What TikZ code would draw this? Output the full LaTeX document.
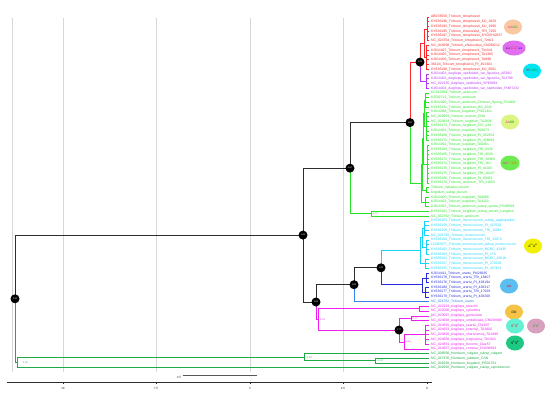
\documentclass[tikz,border=0pt]{standalone}
\usepackage{fontspec}
\setmainfont{Liberation Sans}
\usetikzlibrary{shapes.geometric}
\definecolor{cblk}{RGB}{45,45,45}
\definecolor{cred}{RGB}{250,40,40}
\definecolor{cpur}{RGB}{185,55,240}
\definecolor{cgrn}{RGB}{40,228,40}
\definecolor{ccya}{RGB}{25,212,250}
\definecolor{cblu}{RGB}{40,45,220}
\definecolor{cblu2}{RGB}{50,130,240}
\definecolor{cmag}{RGB}{240,30,240}
\definecolor{cdg}{RGB}{30,170,70}
\definecolor{gridc}{RGB}{215,215,215}
\definecolor{txpink}{RGB}{230,40,160}
\definecolor{txgrn}{RGB}{30,160,30}
\definecolor{txorg}{RGB}{230,120,0}
\begin{document}
\begin{tikzpicture}[x=1pt,y=-1pt,
  lab/.style={anchor=west,inner sep=0pt,font=\fontsize{3.4}{3.6}\selectfont},
  tl/.style={line width=1pt,color=cblk},
  cl/.style={line width=0.6pt},
  bnode/.style={circle,fill=black,inner sep=0pt,minimum size=9pt,text=white,font=\fontsize{2.2}{2.4}\selectfont},
  supp/.style={anchor=west,inner sep=0pt,font=\fontsize{2.4}{2.6}\selectfont},
  gen/.style={ellipse,minimum width=18pt,minimum height=15pt,inner sep=0pt,font=\fontsize{3.3}{3.5}\selectfont},
  axl/.style={inner sep=0pt,font=\fontsize{3}{3.2}\selectfont,text=cblk}
]
\useasboundingbox (0,0) rectangle (550,394);
\fill[white] (0,0) rectangle (550,394);
% grid
\foreach \gx in {12,63,156,250,343} \draw[gridc,line width=0.6pt] (\gx,18) -- (\gx,372);
% axis
\draw[cblk,line width=0.6pt] (7,382) -- (432,382);
\foreach \gx/\gl in {63/10,156/7.5,250/5,343/2.5,427/0} {
  \draw[cblk,line width=0.4pt] (\gx,382) -- (\gx,383.5);
  \node[axl] (ax\gl) at (\gx,388) {\gl};
}
\coordinate (sb1) at (183,375.5);
\coordinate (sb2) at (257,375.5);
\draw[cblk!80,line width=0.9pt] (sb1) -- (sb2);
\node[axl] (sbl) at (179,377.5) {2.5};

% leaves
\foreach \i in {1,...,75} \coordinate (L\i) at (429,{17+(\i-1)*4.743});

% internal nodes
\coordinate (Ra) at (427,28.86);
\coordinate (Rb) at (426.5,57.32);
\coordinate (R) at (424.5,43.09);
\coordinate (P) at (426.5,81.03);
\coordinate (G) at (420,62.06);
\coordinate (GT1) at (425.5,100.0);
\coordinate (GT2a) at (426.5,126.09);
\coordinate (Z) at (424.5,113.05);
\coordinate (GT2b) at (427,164.03);
\coordinate (Y) at (423.5,138.54);
\coordinate (GT3) at (426.5,190.12);
\coordinate (X) at (422,164.33);
\coordinate (GU) at (425,201.98);
\coordinate (GR) at (421,183.15);
\coordinate (B2) at (410,122.6);
\coordinate (GW) at (371,213.84);
\coordinate (B) at (350,168.2);
\coordinate (Ca) at (424,228.07);
\coordinate (Cb) at (426,247.04);
\coordinate (Cc) at (422,237.55);
\coordinate (Cd) at (425,263.64);
\coordinate (CY) at (420,250.6);
\coordinate (Ba) at (426,277.87);
\coordinate (Bb) at (425,292.1);
\coordinate (BL) at (422,284.98);
\coordinate (F) at (381,267.8);
\coordinate (D) at (354,284.7);
\coordinate (Ma) at (419,308.69);
\coordinate (Mb) at (411,318.18);
\coordinate (Mc) at (425,334.78);
\coordinate (Md) at (404,341.9);
\coordinate (E) at (399,330.04);
\coordinate (M) at (318,319.37);
\coordinate (C) at (316,302.0);
\coordinate (A) at (303,235.1);
\coordinate (H3) at (375,360.87);
\coordinate (H2) at (304,357.31);
\coordinate (H) at (17,362.6);
\coordinate (Rt) at (15,298.8);

% backbone
\draw[tl] (Rt) |- (A);
\draw[tl] (A) |- (B);
\draw[tl] (A) |- (C);
\draw[tl] (B) |- (B2);
\draw[tl] (C) |- (D);
\draw[tl] (D) |- (F);
% green A-B genome
\draw[tl,cgrn] (B) |- (GW);
\draw[tl,cgrn] (B2) |- (GR);
\draw[cl,cgrn] (GW) |- (L42);
\draw[cl,cgrn] (GW) |- (L43);
\draw[cl,cgrn] (GR) |- (X);
\draw[cl,cgrn] (GR) |- (GU);
\draw[cl,cgrn] (X) |- (Y);
\draw[cl,cgrn] (X) |- (GT3);
\draw[cl,cgrn] (Y) |- (Z);
\draw[cl,cgrn] (Y) |- (GT2b);
\draw[cl,cgrn] (Z) |- (GT1);
\draw[cl,cgrn] (Z) |- (GT2a);
\foreach \i in {17,...,20} \draw[cl,cgrn] (GT1) |- (L\i);
\foreach \i in {21,...,27} \draw[cl,cgrn] (GT2a) |- (L\i);
\foreach \i in {28,...,36} \draw[cl,cgrn] (GT2b) |- (L\i);
\foreach \i in {37,38} \draw[cl,cgrn] (GT3) |- (L\i);
\foreach \i in {39,40,41} \draw[cl,cgrn] (GU) |- (L\i);
% red / purple
\draw[tl,cred] (B2) |- (G);
\draw[cl,cred] (G) |- (R);
\draw[cl,cred] (R) |- (Ra);
\draw[cl,cred] (R) |- (Rb);
\foreach \i in {1,...,6} \draw[cl,cred] (Ra) |- (L\i);
\foreach \i in {7,...,12} \draw[cl,cred] (Rb) |- (L\i);
\draw[cl,cpur] (G) |- (P);
\foreach \i in {13,...,16} \draw[cl,cpur] (P) |- (L\i);
% cyan / blue
\draw[tl,ccya] (F) |- (CY);
\draw[cl,ccya] (CY) |- (Cc);
\draw[cl,ccya] (CY) |- (Cd);
\draw[cl,ccya] (Cc) |- (Ca);
\draw[cl,ccya] (Cc) |- (Cb);
\foreach \i in {44,...,47} \draw[cl,ccya] (Ca) |- (L\i);
\foreach \i in {48,...,51} \draw[cl,ccya] (Cb) |- (L\i);
\foreach \i in {52,53,54} \draw[cl,ccya] (Cd) |- (L\i);
\draw[tl,cblu] (F) |- (BL);
\draw[cl,cblu] (BL) |- (Ba);
\draw[cl,cblu] (BL) |- (Bb);
\foreach \i in {55,56,57} \draw[cl,cblu] (Ba) |- (L\i);
\foreach \i in {58,59,60} \draw[cl,cblu] (Bb) |- (L\i);
\draw[tl,cblu2] (D) |- (L61);
% magenta
\draw[tl,cmag] (C) |- (M);
\draw[tl,cmag] (M) |- (Ma);
\draw[tl,cmag] (M) |- (E);
\draw[cl,cmag] (E) |- (Mb);
\draw[cl,cmag] (E) |- (Md);
\draw[cl,cmag] (Md) |- (Mc);
\draw[cl,cmag] (Md) |- (L71);
\foreach \i in {62,63} \draw[cl,cmag] (Ma) |- (L\i);
\foreach \i in {64,65} \draw[cl,cmag] (Mb) |- (L\i);
\foreach \i in {66,...,70} \draw[cl,cmag] (Mc) |- (L\i);
% Hordeum
\draw[tl,cdg] (Rt) |- (H);
\draw[tl,cdg] (H) |- (H2);
\draw[tl,cdg] (H) |- (L75);
\draw[tl,cdg] (H2) |- (L72);
\draw[tl,cdg] (H2) |- (H3);
\draw[tl,cdg] (H3) |- (L73);
\draw[tl,cdg] (H3) |- (L74);

% support circles
\foreach \n/\v in {Rt/1.00,A/1.00,B/0.97,B2/1.00,G/1.00,F/1.00,D/1.00,C/1.00,E/0.77}
  \node[bnode] (c\n) at (\n) {\v};
% small support values
\node[supp,text=cgrn] (sGW) at ([xshift=2pt]GW) {1.00};
\node[supp,text=cdg] (sH) at ([xshift=6pt]H) {1.00};
\node[supp,text=cdg] (sH2) at ([xshift=3pt]H2) {1.00};
\node[supp,text=cdg] (sH3) at ([xshift=3pt]H3) {1.00};
\node[supp,text=cmag] (sM) at ([xshift=2pt]M) {1.00};
\node[supp,text=cmag] (sMb) at ([xshift=1.5pt]Mb) {0.77};
\node[supp,text=cmag] (sMd) at ([xshift=1.5pt]Md) {0.65};

% leaf labels
\foreach \i/\t in {
1/AB978559\_Triticum\_timopheevii,
2/KY636196\_Triticum\_timopheevii\_KU\_1829,
3/KY636193\_Triticum\_timopheevii\_KU\_1990,
4/KY636195\_Triticum\_zhukovskyi\_TRI\_7256,
5/KY636197\_Triticum\_timopheevii\_KYOSHI2637,
6/NC\_024764\_Triticum\_timopheevii\_Tim01,
7/NC\_044698\_Triticum\_zhukovskyi\_CN038212,
8/KJ614407\_Triticum\_timopheevii\_Tim341,
9/KJ614405\_Triticum\_timopheevii\_TA1385,
10/KJ614406\_Triticum\_timopheevii\_TA899,
11/36104\_Triticum\_timopheevii\_PI\_452304,
12/KY636198\_Triticum\_timopheevii\_KU\_8501}
  \node[lab,text=cred] (N\i) at ([xshift=2pt]L\i) {\t};
\foreach \i/\t in {
13/KJ614403\_Aegilops\_speltoides\_var\_ligustica\_AE910,
14/KJ614402\_Aegilops\_speltoides\_var\_ligustica\_TA1796,
15/NC\_022135\_Aegilops\_speltoides\_SPE0661,
16/KJ614404\_Aegilops\_speltoides\_var\_speltoides\_PI487232}
  \node[lab,text=cpur] (N\i) at ([xshift=2pt]L\i) {\t};
\foreach \i/\t in {
17/KC912694\_Triticum\_aestivum,
18/KJ592713\_Triticum\_aestivum,
19/KJ614396\_Triticum\_aestivum\_Chinese\_Spring\_TA3008,
20/KY636151\_Triticum\_aestivum\_BS\_2011,
21/KJ614398\_Triticum\_turgidum\_PI221421,
22/NC\_029959\_Triticum\_ovatum\_DNA,
23/NC\_024814\_Triticum\_turgidum\_TA2836,
24/KY636173\_Triticum\_turgidum\_CIC\_144,
25/KJ614401\_Triticum\_turgidum\_TA0073,
26/KY636168\_Triticum\_turgidum\_PI\_352353,
27/KY636171\_Triticum\_turgidum\_PI\_428083,
28/KJ614392\_Triticum\_turgidum\_TA0061,
29/KY636169\_Triticum\_turgidum\_TRI\_3426,
30/KY636165\_Triticum\_turgidum\_TRI\_8020,
31/KY636172\_Triticum\_turgidum\_TRI\_18969,
32/KY636174\_Triticum\_turgidum\_TRI\_161,
33/KY636176\_Triticum\_turgidum\_PI\_41025,
34/KY636175\_Triticum\_turgidum\_TRI\_10137,
35/KY636166\_Triticum\_turgidum\_PI\_60463,
36/KY636170\_Triticum\_aestivum\_TRI\_11054,
37/Triticum\_sphaerococcum,
38/turgidum\_subsp\_durum,
39/KJ614400\_Triticum\_turgidum\_TA0066,
40/KJ614402\_Triticum\_turgidum\_TA1133,
41/KJ614397\_Triticum\_aestivum\_subsp\_spelta\_PI348569,
42/KY636161\_Triticum\_turgidum\_subsp\_durum\_Langdon,
43/NC\_002762\_Triticum\_aestivum}
  \node[lab,text=cgrn] (N\i) at ([xshift=2pt]L\i) {\t};
\foreach \i/\t in {
44/KY636163\_Triticum\_monococcum\_subsp\_aegilopoides,
45/KY636159\_Triticum\_monococcum\_PI\_427620,
46/KY636156\_Triticum\_monococcum\_TRI\_13061,
47/NC\_021760\_Triticum\_monococcum,
48/KY636160\_Triticum\_monococcum\_TRI\_13073,
49/LC005977\_Triticum\_monococcum\_subsp\_monococcum,
50/KY636162\_Triticum\_monococcum\_BGRC\_43435,
51/KY636158\_Triticum\_monococcum\_PI\_170,
52/KY636154\_Triticum\_monococcum\_BGRC\_26518,
53/KY636157\_Triticum\_monococcum\_PI\_272529,
54/KY636155\_Triticum\_monococcum\_PI\_427451}
  \node[lab,text=ccya] (N\i) at ([xshift=2pt]L\i) {\t};
\foreach \i/\t in {
55/KJ614411\_Triticum\_urartu\_PI428335,
56/KY636178\_Triticum\_urartu\_TRI\_18407,
57/KY636176\_Triticum\_urartu\_PI\_428194,
58/KY636180\_Triticum\_urartu\_PI\_428317,
59/KY636177\_Triticum\_urartu\_TRI\_17926,
60/KY636179\_Triticum\_urartu\_PI\_428209}
  \node[lab,text=cblu] (N\i) at ([xshift=2pt]L\i) {\t};
\node[lab,text=cblu2] (N61) at ([xshift=2pt]L61) {NC\_021762\_Triticum\_urartu};
\foreach \i/\t in {
62/NC\_022133\_Aegilops\_tauschii,
63/NC\_022096\_Aegilops\_cylindrica,
64/NC\_023097\_Aegilops\_geniculata,
65/NC\_024668\_Aegilops\_umbellulata\_CN038989,
66/NC\_024815\_Aegilops\_searsii\_TA1837,
67/NC\_024653\_Aegilops\_kotschyi\_TA1800,
68/NC\_024816\_Aegilops\_sharonensis\_TA1999,
69/NC\_024658\_Aegilops\_longissima\_TA1924,
70/NC\_024831\_Aegilops\_bicornis\_Clae57,
71/NC\_024657\_Aegilops\_comosa\_CN038933}
  \node[lab,text=cmag] (N\i) at ([xshift=2pt]L\i) {\t};
\foreach \i/\t in {
72/NC\_008590\_Hordeum\_vulgare\_subsp\_vulgare,
73/NC\_027476\_Hordeum\_jubatum\_CAN,
74/NC\_041630\_Hordeum\_bogdanii\_PI531761,
75/NC\_042692\_Hordeum\_vulgare\_subsp\_spontaneum}
  \node[lab,text=cdg] (N\i) at ([xshift=2pt]L\i) {\t};

% genome ellipses
\node[gen,fill={rgb,255:red,250;green,200;blue,160}] (e1) at (513,27)
  {\textcolor{txpink}{AA}\textcolor{txgrn}{GG}};
\node[gen,fill={rgb,255:red,225;green,110;blue,240},font=\fontsize{2.5}{2.7}\selectfont] (e2) at (514,48)
  {A\textsuperscript{t}A\textsuperscript{t}\textcolor{red}{A\textsuperscript{m}A\textsuperscript{m}}\textcolor{blue}{GG}};
\node[gen,fill={rgb,255:red,0;green,230;blue,245}] (e3) at (532,71)
  {\textcolor{red}{SS} \textcolor{txgrn}{(BB)}};
\node[gen,fill={rgb,255:red,220;green,245;blue,130}] (e4) at (510,122)
  {\textcolor{txpink}{AA}\textcolor{txgrn}{BB}};
\node[gen,fill={rgb,255:red,110;green,235;blue,80}] (e5) at (510,163)
  {\textcolor{txpink}{AA}\textcolor{yellow!70!black}{BB}\textcolor{txorg}{DD}};
\node[gen,fill={rgb,255:red,240;green,240;blue,0}] (e6) at (533,246)
  {A\textsuperscript{m}A\textsuperscript{m}};
\node[gen,fill={rgb,255:red,90;green,190;blue,240}] (e7) at (509,286)
  {\textcolor{red}{AA}};
\node[gen,fill={rgb,255:red,245;green,195;blue,70}] (e8) at (514,312)
  {DD};
\node[gen,fill={rgb,255:red,100;green,240;blue,210}] (e9) at (515,326)
  {\textcolor{red}{S\textsuperscript{s}S\textsuperscript{s}}};
\node[gen,fill={rgb,255:red,215;green,160;blue,190}] (e10) at (536,326)
  {\textcolor{txgrn}{S\textsuperscript{l}S\textsuperscript{l}}};
\node[gen,fill={rgb,255:red,30;green,200;blue,130}] (e11) at (515,343)
  {S\textsuperscript{b}S\textsuperscript{b}};
\end{tikzpicture}
\end{document}
